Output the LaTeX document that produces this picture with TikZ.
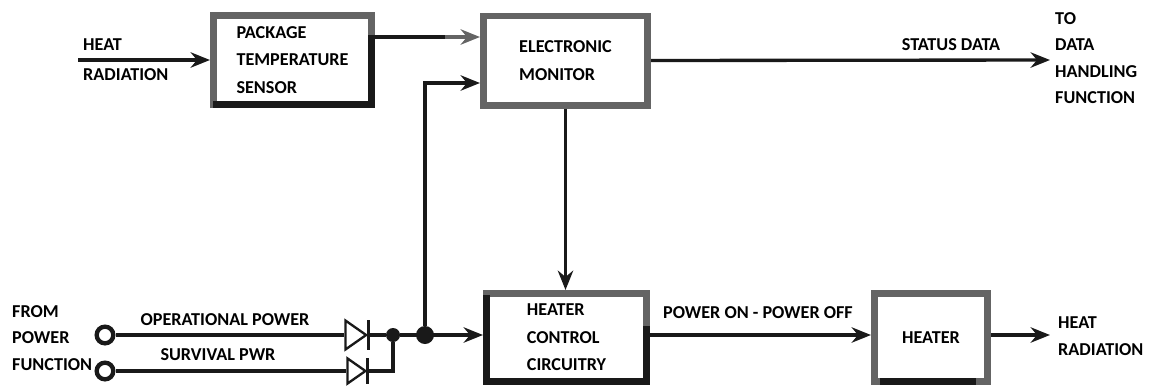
\documentclass[tikz,border=0pt]{standalone}
\usepackage{fontspec}
\setmainfont{Carlito}
\definecolor{framegray}{RGB}{100, 100, 100}
\usetikzlibrary{shapes.geometric, arrows.meta, calc}

\begin{document}
\begin{tikzpicture}[
  x=0.03cm, y=-0.03cm,
  mbox/.style={draw=framegray, line width=0.2cm, fill=white, align=left, inner sep=0pt, font=\fontsize{15.5}{23.5}\selectfont\bfseries},
  mlabel/.style={align=left, inner sep=0pt, font=\fontsize{15.5}{22.5}\selectfont\bfseries},
  wire/.style={line width=0.1cm, draw=black!90},
  flow/.style={wire, -{Stealth[length=0.58cm, width=0.46cm]}},
  edge/.style={line width=0.2cm, draw=black!90, line cap=rect},
  terminal/.style={circle, draw=black!90, line width=0.13cm, fill=white, minimum size=0.5cm, inner sep=0pt},
  joint/.style={circle, fill=black!90, inner sep=0pt},
  diode/.style={isosceles triangle, isosceles triangle apex angle=70, draw=black!90, line width=0.07cm, fill=white, minimum size=0.62cm, inner sep=0pt},
  diodebar/.style={wire, line width=0.09cm}
]
  \useasboundingbox (0,0) rectangle (1151,387);

  \node[mbox, minimum width=4.75cm, minimum height=2.68cm] (sensor) at (292.5, 60) {PACKAGE\\TEMPERATURE\\SENSOR};
  \node[mbox, minimum width=4.93cm, minimum height=2.68cm] (monitor) at (565.5, 60.5) {ELECTRONIC\\MONITOR};
  \node[mbox, minimum width=4.81cm, minimum height=2.65cm] (control) at (566.5, 337.5) {HEATER\\CONTROL\\CIRCUITRY};
  \node[mbox, minimum width=3.4cm, minimum height=2.65cm] (heater) at (931, 337.5) {HEATER};

  \draw[edge] ($(sensor.south east)+(-3.3,-70)$) -- ($(sensor.south east)+(-3.3,-3.3)$) -- ($(sensor.south west)+(6,-3.3)$);
  \draw[edge] ($(control.north west)+(3.3,8)$) -- ($(control.south west)+(3.3,-3.3)$) -- ($(control.south east)+(-3.3,-3.3)$) -- ($(control.east)+(-3.3,-8)$);
  \draw[edge] ($(heater.south west)+(12,-3.3)$) -- ($(heater.south east)+(-18,-3.3)$);

  \coordinate (heatin) at (78, 60);
  \coordinate (statusend) at (1050, 60);
  \coordinate (heatout) at (1050, 335);
  \coordinate (graystart) at (445, 37);

  \draw[flow] (heatin) -- (sensor.west);
  \draw[wire] (sensor.east |- graystart) -- (graystart);
  \draw[flow, draw=framegray, fill=framegray] (graystart) -- (monitor.west |- graystart);
  \draw[flow] (monitor.east) -- (statusend);
  \draw[flow] (monitor.south) -- (monitor.south |- control.north);

  \node[terminal] (opin) at (105, 335) {};
  \node[terminal] (survin) at (105, 371) {};
  \node[diode] (opdiode) at (353, 335) {};
  \node[diode, minimum size=0.54cm] (survdiode) at (354, 371) {};
  \node[joint, minimum size=0.42cm] (merge) at (393, 335) {};
  \node[joint, minimum size=0.54cm] (branch) at (425, 335) {};

  \draw[flow] (control.east |- merge) -- (heater.west |- merge);
  \draw[flow] (heater.east |- merge) -- (heatout);
  \draw[wire] (opin) -- (opdiode.west);
  \draw[wire] (survin) -- (survdiode.west);
  \draw[wire] (opdiode.apex) -- (merge);
  \draw[wire] (survdiode.apex) -| (merge);
  \draw[flow] (merge) -- (control.west |- merge);
  \draw[flow] (branch) |- (monitor.west |- 0,83);
  \draw[diodebar] ($(opdiode.apex)+(0,-15)$) -- ($(opdiode.apex)+(0,15)$);
  \draw[diodebar] ($(survdiode.apex)+(0,-13)$) -- ($(survdiode.apex)+(0,13)$);

  \node[mlabel, anchor=west] (heatinlabel) at (83, 60) {HEAT\\[3pt]RADIATION};
  \node[mlabel] (statuslabel) at (951, 45) {STATUS DATA};
  \node[mlabel, anchor=west] (tolabel) at (1055, 58) {TO\\DATA\\HANDLING\\FUNCTION};
  \node[mlabel, anchor=west] (fromlabel) at (12, 338) {FROM\\POWER\\FUNCTION};
  \node[mlabel] (oplabel) at (225, 320) {OPERATIONAL POWER};
  \node[mlabel] (survlabel) at (218, 355) {SURVIVAL PWR};
  \node[mlabel] (onofflabel) at (758, 313) {POWER ON - POWER OFF};
  \node[mlabel, anchor=west] (heatoutlabel) at (1058, 336) {HEAT\\RADIATION};
\end{tikzpicture}
\end{document}
